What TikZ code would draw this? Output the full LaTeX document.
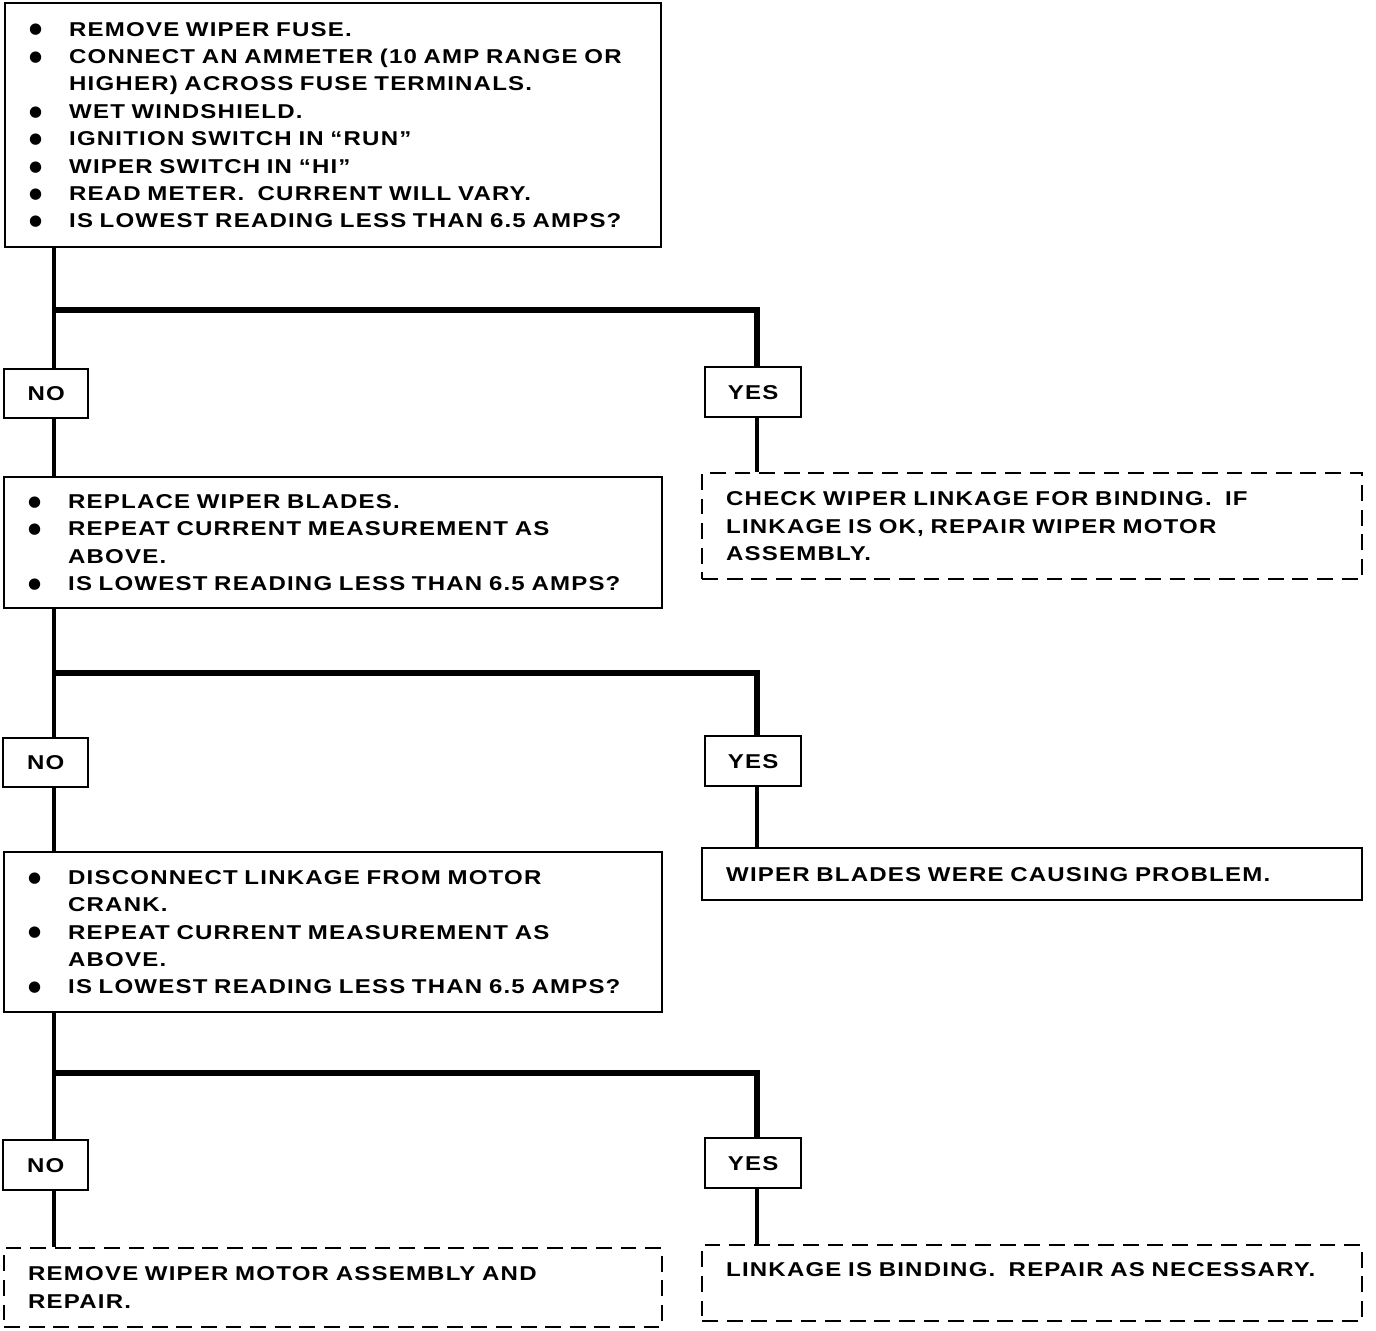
\documentclass[tikz,border=0pt]{standalone}
\usepackage{fontspec}
\setmainfont{Liberation Sans}[FakeStretch=1.2,LetterSpace=6]
\newfontfamily\dotfont{DejaVu Sans}
\usetikzlibrary{positioning,calc}

\newcommand{\bl}[1]{\makebox[0.8cm][l]{\raisebox{1.2pt}{\dotfont\fontsize{8.5}{9}\selectfont ●}}\mbox{#1}}
\newcommand{\cn}[1]{\hspace*{0.8cm}\mbox{#1}}

\begin{document}
\begin{tikzpicture}[
    x=0.02cm, y=-0.02cm,
    base/.style={draw, rectangle, line width=1.3pt, anchor=north west,
                 align=left, inner xsep=0.48cm, inner ysep=0pt,
                 font=\fontsize{11.4}{15.6}\selectfont\bfseries},
    stepbox/.style={base},
    endbox/.style={base, dash pattern=on 9pt off 5pt},
    tag/.style={draw, rectangle, line width=1.3pt, anchor=north west,
                align=center, inner sep=0pt,
                font=\fontsize{11.4}{15.6}\selectfont\bfseries},
    wire/.style={line width=2.6pt},
    fork/.style={line width=3.2pt, line join=miter},
  ]
    \useasboundingbox (0,0) rectangle (1376,1330);

    % ---- Stage 1 ----
    \node[stepbox, minimum width=13.12cm, minimum height=4.88cm, text width=12.16cm] (q1) at (4,2)
      {\bl{REMOVE WIPER FUSE.}\\
       \bl{CONNECT AN AMMETER (10 AMP RANGE OR}\\
       \cn{HIGHER) ACROSS FUSE TERMINALS.}\\
       \bl{WET WINDSHIELD.}\\
       \bl{IGNITION SWITCH IN ``RUN"}\\
       \bl{WIPER SWITCH IN ``HI"}\\
       \bl{READ METER.\ \ CURRENT WILL VARY.}\\
       \bl{IS LOWEST READING LESS THAN 6.5 AMPS?}};
    \node[tag, minimum width=1.68cm, minimum height=0.98cm] (no1) at (3,368) {NO};
    \node[tag, minimum width=1.92cm, minimum height=1.0cm] (yes1) at (704,366) {YES};
    \node[endbox, minimum width=13.2cm, minimum height=2.12cm, text width=12.24cm] (a1) at (701,472)
      {CHECK WIPER LINKAGE FOR BINDING.\ \ IF\\
       LINKAGE IS OK, REPAIR WIPER MOTOR\\
       ASSEMBLY.};

    % ---- Stage 2 ----
    \node[stepbox, minimum width=13.16cm, minimum height=2.62cm, text width=12.2cm] (q2) at (3,476)
      {\bl{REPLACE WIPER BLADES.}\\
       \bl{REPEAT CURRENT MEASUREMENT AS}\\
       \cn{ABOVE.}\\
       \bl{IS LOWEST READING LESS THAN 6.5 AMPS?}};
    \node[tag, minimum width=1.7cm, minimum height=0.98cm] (no2) at (2,737) {NO};
    \node[tag, minimum width=1.92cm, minimum height=1.0cm] (yes2) at (704,735) {YES};
    \node[stepbox, minimum width=13.2cm, minimum height=1.04cm, text width=12.24cm] (a2) at (701,847)
      {WIPER BLADES WERE CAUSING PROBLEM.};

    % ---- Stage 3 ----
    \node[stepbox, minimum width=13.16cm, minimum height=3.2cm, text width=12.2cm] (q3) at (3,851)
      {\bl{DISCONNECT LINKAGE FROM MOTOR}\\
       \cn{CRANK.}\\
       \bl{REPEAT CURRENT MEASUREMENT AS}\\
       \cn{ABOVE.}\\
       \bl{IS LOWEST READING LESS THAN 6.5 AMPS?}};
    \node[tag, minimum width=1.7cm, minimum height=1.0cm] (no3) at (2,1139) {NO};
    \node[tag, minimum width=1.92cm, minimum height=1.0cm] (yes3) at (704,1137) {YES};
    \node[endbox, minimum width=13.16cm, minimum height=1.58cm, text width=12.2cm] (a3) at (3,1247)
      {REMOVE WIPER MOTOR ASSEMBLY AND\\
       REPAIR.};
    \node[endbox, minimum width=13.2cm, minimum height=1.52cm, text width=12.24cm] (a4) at (701,1244)
      {LINKAGE IS BINDING.\ \ REPAIR AS NECESSARY.\\ \mbox{}};

    % ---- branch points ----
    \coordinate (j1) at (54,310);   \coordinate (k1) at (757,310);
    \coordinate (j2) at (54,673);   \coordinate (k2) at (757,673);
    \coordinate (j3) at (54,1073);  \coordinate (k3) at (757,1073);

    % ---- connectors ----
    \draw[wire] (q1.south -| j1) -- (no1.north -| j1);
    \draw[fork] (j1) -- (k1) -- (yes1.north -| k1);
    \draw[wire] (no1.south -| j1) -- (q2.north -| j1);
    \draw[wire] (yes1.south -| k1) -- (a1.north -| k1);

    \draw[wire] (q2.south -| j2) -- (no2.north -| j2);
    \draw[fork] (j2) -- (k2) -- (yes2.north -| k2);
    \draw[wire] (no2.south -| j2) -- (q3.north -| j2);
    \draw[wire] (yes2.south -| k2) -- (a2.north -| k2);

    \draw[wire] (q3.south -| j3) -- (no3.north -| j3);
    \draw[fork] (j3) -- (k3) -- (yes3.north -| k3);
    \draw[wire] (no3.south -| j3) -- (a3.north -| j3);
    \draw[wire] (yes3.south -| k3) -- (a4.north -| k3);
\end{tikzpicture}
\end{document}
